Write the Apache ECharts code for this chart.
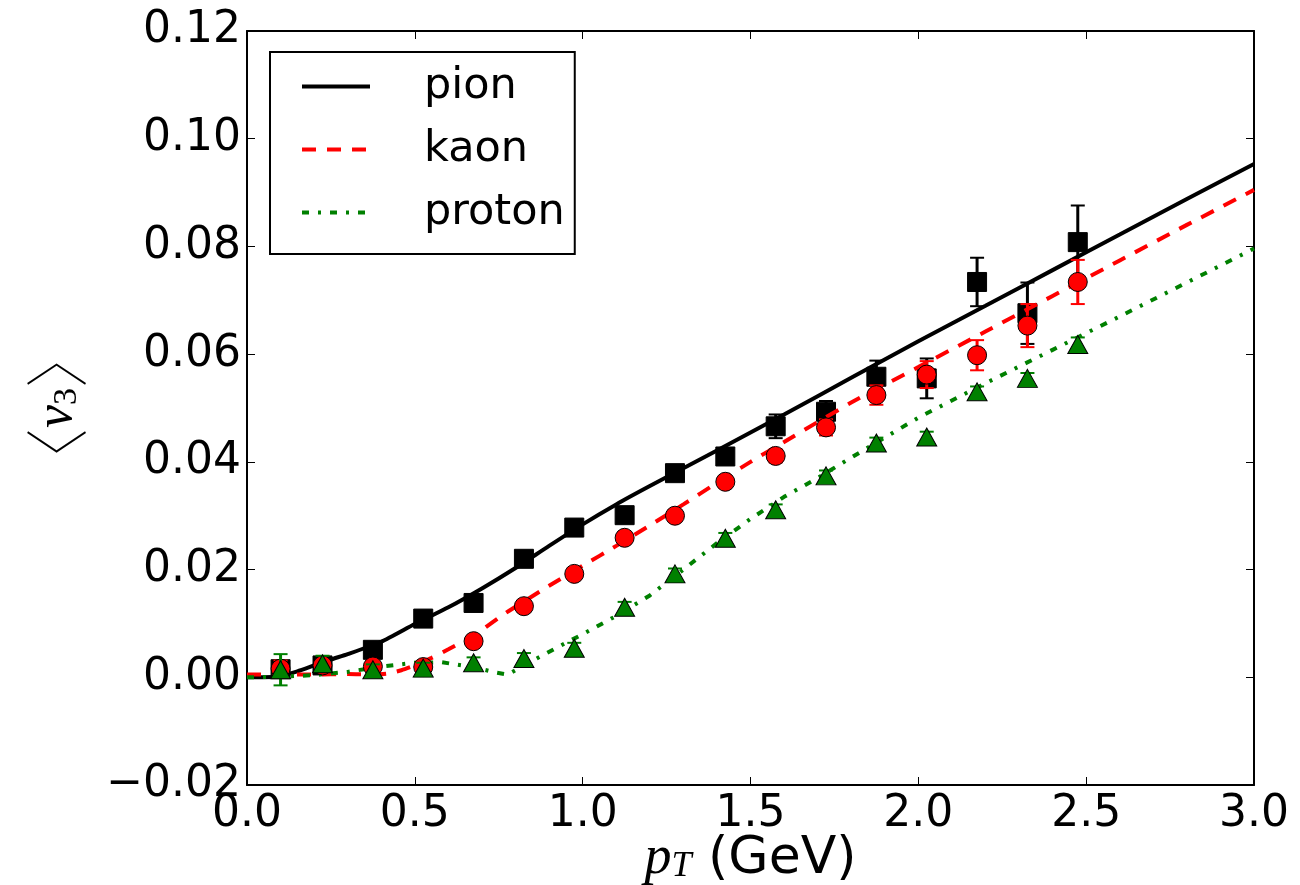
<!DOCTYPE html>
<html>
<head>
<meta charset="utf-8">
<script src="https://cdn.jsdelivr.net/npm/echarts@6/dist/echarts.min.js"></script>
<style>html,body{margin:0;padding:0;background:#fff;}#c{width:1300px;height:885px;}</style>
</head>
<body>
<div id="c"></div>
<script>
// ---- data ----
const ptData = [0.1, 0.225, 0.375, 0.525, 0.675, 0.825, 0.975, 1.125, 1.275, 1.425, 1.575, 1.725, 1.875, 2.025, 2.175, 2.325, 2.475];
const pionV3 = [0.0015, 0.0022, 0.0051, 0.0109, 0.0138, 0.0220, 0.0278, 0.0301, 0.0379, 0.0410, 0.0466, 0.0493, 0.0558, 0.0555, 0.0734, 0.0676, 0.0808];
const pionErr = [0.0015, 0.001, 0.001, 0.0008, 0.0008, 0.0008, 0.0008, 0.0008, 0.0008, 0.001, 0.0022, 0.002, 0.003, 0.0037, 0.0045, 0.0057, 0.0068];
const kaonV3 = [0.0016, 0.0022, 0.0020, 0.0019, 0.0067, 0.0132, 0.0192, 0.0259, 0.0300, 0.0363, 0.0411, 0.0464, 0.0524, 0.0562, 0.0598, 0.0653, 0.0734];
const kaonErr = [0.0015, 0.001, 0.001, 0.001, 0.001, 0.001, 0.001, 0.001, 0.001, 0.001, 0.0012, 0.0015, 0.0018, 0.0025, 0.0028, 0.0040, 0.0041];
const protonV3 = [0.0014, 0.0025, 0.0014, 0.0017, 0.0027, 0.0035, 0.0054, 0.0130, 0.0192, 0.0258, 0.0311, 0.0374, 0.0435, 0.0446, 0.0530, 0.0555, 0.0618];
const protonErr = [0.0029, 0.0015, 0.001, 0.001, 0.001, 0.001, 0.001, 0.001, 0.001, 0.001, 0.001, 0.001, 0.001, 0.001, 0.001, 0.001, 0.0013];

const pionCurveX = [0, 0.05, 0.1, 0.15, 0.2, 0.25, 0.3, 0.4, 0.5, 0.6, 0.7, 0.8, 0.9, 1.0, 1.1, 1.2, 1.4, 1.6, 1.8, 2.0, 2.2, 2.4, 2.6, 2.8, 3.0];
const pionCurveY = [0, 0, 0.0003, 0.0011, 0.0022, 0.0033, 0.0043, 0.0066, 0.0099, 0.0130, 0.0165, 0.0203, 0.0244, 0.0284, 0.0321, 0.0355, 0.0421, 0.0488, 0.0556, 0.0624, 0.0690, 0.0756, 0.0822, 0.0888, 0.0953];
const kaonCurveX = [0, 0.1, 0.2, 0.3, 0.38, 0.42, 0.46, 0.5, 0.55, 0.6, 0.65, 0.7, 0.76, 0.8, 0.9, 1.0, 1.1, 1.2, 1.3, 1.4, 1.5, 1.6, 1.8, 2.0, 2.2, 2.4, 2.6, 2.8, 3.0];
const kaonCurveY = [0.0005, 0.0005, 0.0005, 0.0006, 0.0005, 0.0007, 0.0013, 0.0022, 0.0036, 0.0052, 0.0069, 0.0088, 0.0115, 0.0131, 0.0170, 0.0207, 0.0244, 0.0282, 0.0321, 0.0361, 0.0400, 0.0437, 0.0510, 0.0576, 0.0642, 0.0708, 0.0774, 0.0840, 0.0905];
const protonCurveX = [0, 0.1, 0.2, 0.3, 0.4, 0.5, 0.58, 0.64, 0.7, 0.74, 0.777, 0.82, 0.863, 0.947, 1.0, 1.1, 1.2, 1.3, 1.4, 1.5, 1.6, 1.7, 1.8, 1.9, 2.0, 2.2, 2.4, 2.6, 2.8, 3.0];
const protonCurveY = [0, 0.0001, 0.0004, 0.0010, 0.0020, 0.0027, 0.0028, 0.0022, 0.0015, 0.0009, 0.0005, 0.0020, 0.0035, 0.0063, 0.0080, 0.0114, 0.0152, 0.0200, 0.0249, 0.0294, 0.0335, 0.0370, 0.0408, 0.0445, 0.0482, 0.0546, 0.0608, 0.0670, 0.0733, 0.0796];

const seriesNames = ['pion', 'kaon', 'proton'];
const xTicks = [0, 0.5, 1.0, 1.5, 2.0, 2.5, 3.0];
const yTicks = [-0.02, 0, 0.02, 0.04, 0.06, 0.08, 0.10, 0.12];

// ---- build ----
const zip = (xs, ys) => xs.map((x, i) => [x, ys[i]]);
const zip3 = (xs, ys, es) => xs.map((x, i) => [x, ys[i], es[i]]);
const FONT = 'DejaVu Sans';

function errRender(color) {
  return function (params, api) {
    const x = api.value(0), y = api.value(1), e = api.value(2);
    const lo = api.coord([x, y - e]);
    const hi = api.coord([x, y + e]);
    const cw = 7;
    const st = { stroke: color, lineWidth: 3 };
    return {
      type: 'group',
      children: [
        { type: 'line', shape: { x1: lo[0], y1: lo[1], x2: hi[0], y2: hi[1] }, style: st },
        { type: 'line', shape: { x1: lo[0] - cw, y1: lo[1], x2: lo[0] + cw, y2: lo[1] }, style: { stroke: color, lineWidth: 2 } },
        { type: 'line', shape: { x1: hi[0] - cw, y1: hi[1], x2: hi[0] + cw, y2: hi[1] }, style: { stroke: color, lineWidth: 2 } }
      ]
    };
  };
}

const axisCommon = {
  type: 'value',
  axisLine: { show: true, onZero: false, lineStyle: { color: '#000', width: 2 } },
  axisTick: { show: true, inside: true, length: 8, lineStyle: { color: '#000', width: 1 } },
  splitLine: { show: false }
};

const option = {
  animation: false,
  backgroundColor: '#fff',
  grid: { left: 247, right: 46, top: 31, bottom: 100, show: false, containLabel: false, outerBoundsMode: 'none' },
  legend: {
    orient: 'vertical', left: 270, top: 52,
    padding: [13, 10, 20, 30],
    itemGap: 20, itemWidth: 68, itemHeight: 14,
    borderColor: '#000', borderWidth: 2, borderRadius: 0,
    backgroundColor: '#fff',
    itemStyle: { opacity: 0 },
    lineStyle: { width: 4 },
    textStyle: { fontSize: 43, fontFamily: FONT, color: '#000', lineHeight: 43, padding: [0, 0, 0, 49] },
    data: seriesNames
  },
  xAxis: [
    Object.assign({}, axisCommon, {
      min: 0, max: 3, interval: 0.5, position: 'bottom',
      axisLabel: { fontSize: 44, fontFamily: FONT, color: '#000', margin: 8, formatter: v => v.toFixed(1) },
      name: '{i|p}{s|T} (GeV)', nameLocation: 'middle', nameGap: 46, nameMoveOverlap: false,
      nameTextStyle: {
        fontSize: 52, fontFamily: FONT, color: '#000', lineHeight: 56,
        rich: {
          i: { fontSize: 54, fontFamily: 'Liberation Serif', fontStyle: 'italic', color: '#000', lineHeight: 56 },
          s: { fontSize: 36, fontFamily: 'Liberation Serif', fontStyle: 'italic', color: '#000', lineHeight: 56, padding: [16, 0, 0, 0] }
        }
      }
    }),
    Object.assign({}, axisCommon, {
      min: 0, max: 3, interval: 0.5, position: 'top',
      axisLabel: { show: false }
    })
  ],
  yAxis: [
    Object.assign({}, axisCommon, {
      min: -0.02, max: 0.12, interval: 0.02, position: 'left',
      axisLabel: {
        fontSize: 44, fontFamily: FONT, color: '#000', margin: 6,
        formatter: v => (v < 0 ? '\u2212' : '') + Math.abs(v).toFixed(2)
      },
      name: '{b|\u3008}{v|v}{s|3}{b|\u3009}', nameLocation: 'middle', nameGap: 158, nameRotate: 90,
      nameTextStyle: {
        color: '#000',
        rich: {
          b: { fontSize: 64, fontFamily: 'Noto Sans CJK SC', fontWeight: 'lighter', color: '#000' },
          v: { fontSize: 52, fontFamily: 'Liberation Serif', fontStyle: 'italic', color: '#000' },
          s: { fontSize: 34, fontFamily: 'Liberation Serif', color: '#000', padding: [20, 0, 0, 0] }
        }
      }
    }),
    Object.assign({}, axisCommon, {
      min: -0.02, max: 0.12, interval: 0.02, position: 'right',
      axisLabel: { show: false }
    })
  ],
  series: [
    { name: 'pion_err', type: 'custom', renderItem: errRender('#000'), data: zip3(ptData, pionV3, pionErr), z: 2, silent: true },
    { name: 'pion_data', type: 'scatter', data: zip(ptData, pionV3), symbol: 'rect', symbolSize: 19, itemStyle: { color: '#000', borderColor: '#000', borderWidth: 1, opacity: 1 }, z: 3 },
    { name: 'pion', type: 'line', data: zip(pionCurveX, pionCurveY), symbol: 'none', smooth: 0.2, lineStyle: { color: '#000', width: 4, type: 'solid' }, itemStyle: { color: '#000' }, z: 4 },
    { name: 'kaon', type: 'line', data: zip(kaonCurveX, kaonCurveY), symbol: 'none', smooth: 0.2, lineStyle: { color: '#ff0000', width: 4, type: [14, 11] }, itemStyle: { color: '#ff0000' }, z: 4 },
    { name: 'proton', type: 'line', data: zip(protonCurveX, protonCurveY), symbol: 'none', smooth: false, lineStyle: { color: '#008000', width: 4, type: [7, 9, 3, 9] }, itemStyle: { color: '#008000' }, z: 4 },
    { name: 'kaon_err', type: 'custom', renderItem: errRender('#ff0000'), data: zip3(ptData, kaonV3, kaonErr), z: 5, silent: true },
    { name: 'kaon_data', type: 'scatter', data: zip(ptData, kaonV3), symbol: 'circle', symbolSize: 19, itemStyle: { color: '#ff0000', borderColor: '#000', borderWidth: 1, opacity: 1 }, z: 6 },
    { name: 'proton_err', type: 'custom', renderItem: errRender('#008000'), data: zip3(ptData, protonV3, protonErr), z: 7, silent: true },
    { name: 'proton_data', type: 'scatter', data: zip(ptData, protonV3), symbol: 'triangle', symbolSize: [20, 18], itemStyle: { color: '#008000', borderColor: '#000', borderWidth: 1, opacity: 1 }, z: 8 }
  ]
};

const chart = echarts.init(document.getElementById('c'), null, { renderer: 'canvas' });
chart.setOption(option);
</script>
</body>
</html>
